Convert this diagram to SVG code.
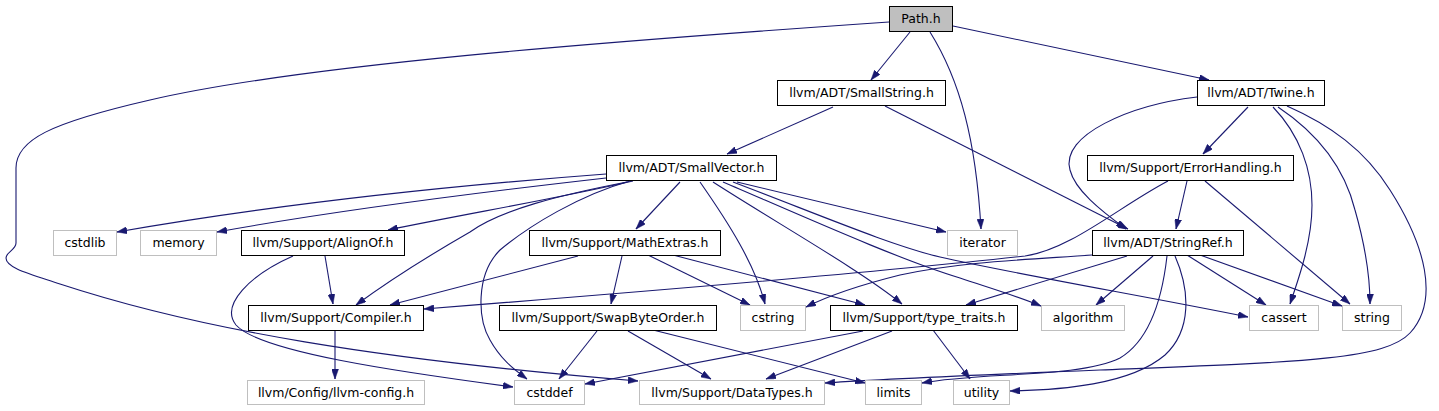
<svg xmlns="http://www.w3.org/2000/svg" width="1439" height="411" viewBox="0 0 1439 411">
<style>
.n rect{fill:#fff;stroke:#000;stroke-width:1}
.g rect{fill:#fff;stroke:#bfbfbf;stroke-width:1}
.root rect{fill:#bfbfbf;stroke:#000;stroke-width:1}
text{font-family:"DejaVu Sans","Liberation Sans",sans-serif;font-size:12.5px;fill:#000;text-anchor:middle}
#edges path{fill:none;stroke:#191970;stroke-width:1.1;marker-end:url(#arr)}
</style>
<defs>
<marker id="arr" viewBox="0 0 10 7" refX="10" refY="3.5" markerWidth="10" markerHeight="7" markerUnits="userSpaceOnUse" orient="auto">
<path d="M0,0 L10,3.5 L0,7 z" fill="#191970" stroke="#191970" stroke-width="0.5"/>
</marker>
</defs>
<rect width="1439" height="411" fill="#fff"/>
<g id="edges">
<path d="M910,32 L871,80"/>
<path d="M930,32 C960,80 976,140 981,229"/>
<path d="M953,26 L1209,80"/>
<path d="M889,22 C600,42 300,65 150,100 C50,123 16,140 16,168 L16,243 C16,250 6,252 6,258 C6,268 30,274 60,284 C200,330 380,360 638,381"/>
<path d="M833,107 L727,154"/>
<path d="M885,106 L1128,229"/>
<path d="M1248,107 L1203,154"/>
<path d="M1197,97 C1130,105 1060,135 1070,170 C1075,190 1100,210 1126,229"/>
<path d="M1273,107 C1300,135 1312,170 1312,205 C1312,240 1300,275 1290,304"/>
<path d="M1278,107 C1320,135 1345,170 1355,210 C1365,245 1370,275 1370,304"/>
<path d="M1287,106 C1330,125 1365,150 1390,190 C1425,245 1440,300 1410,333 C1385,360 1300,362 1100,370 C1000,374 900,378 825,383"/>
<path d="M1168,181 C1120,206 1070,250 1025,256 C880,272 640,292 424,309"/>
<path d="M1187,181 L1176,229"/>
<path d="M1205,181 L1350,304"/>
<path d="M606,174 C500,182 300,200 117,232"/>
<path d="M606,178 C500,190 350,208 217,232"/>
<path d="M633,181 C550,200 470,213 388,230"/>
<path d="M627,182 C560,195 500,210 470,232 C430,255 390,280 356,305"/>
<path d="M630,181 C580,195 530,225 500,250 C475,275 478,320 490,340 C500,358 512,368 527,379"/>
<path d="M680,182 L636,229"/>
<path d="M700,182 C730,225 755,265 765,304"/>
<path d="M713,182 C780,225 860,270 902,304"/>
<path d="M737,182 L946,232"/>
<path d="M723,182 C800,215 900,260 960,278 C990,288 1020,297 1041,306"/>
<path d="M733,182 C820,215 890,245 940,257 C1020,275 1150,297 1248,317"/>
<path d="M325,256 L333,304"/>
<path d="M293,256 C250,275 220,305 236,325 C260,352 400,372 513,387"/>
<path d="M335,330 L335,379"/>
<path d="M578,256 L390,305"/>
<path d="M622,256 L611,304"/>
<path d="M648,255 L750,305"/>
<path d="M673,255 L865,305"/>
<path d="M597,331 L559,379"/>
<path d="M628,331 L711,379"/>
<path d="M653,330 L865,383"/>
<path d="M863,331 L585,384"/>
<path d="M892,331 L766,379"/>
<path d="M933,330 L970,379"/>
<path d="M1092,255 C1020,260 960,262 900,275 C860,285 830,295 806,307"/>
<path d="M1127,256 L966,305"/>
<path d="M1153,256 L1096,305"/>
<path d="M1187,255 L1266,305"/>
<path d="M1200,255 L1342,306"/>
<path d="M1167,256 C1162,300 1150,340 1120,358 C1080,378 980,372 922,383"/>
<path d="M1175,256 C1190,290 1192,330 1165,355 C1130,385 1060,390 1010,391"/>
</g>
<g id="node-path" class="root"><rect x="889.5" y="6.5" width="63" height="25"/><text x="921" y="23">Path.h</text></g>
<g id="node-smallstring" class="n"><rect x="777.5" y="80.5" width="168" height="25"/><text x="861.5" y="97">llvm/ADT/SmallString.h</text></g>
<g id="node-twine" class="n"><rect x="1197.5" y="80.5" width="127" height="25"/><text x="1261" y="97">llvm/ADT/Twine.h</text></g>
<g id="node-smallvector" class="n"><rect x="606.5" y="155.5" width="170" height="25"/><text x="691.5" y="172">llvm/ADT/SmallVector.h</text></g>
<g id="node-errorhandling" class="n"><rect x="1087.5" y="155.5" width="206" height="25"/><text x="1190.5" y="172">llvm/Support/ErrorHandling.h</text></g>
<g id="node-cstdlib" class="g"><rect x="53.5" y="230.5" width="63" height="25"/><text x="85" y="247">cstdlib</text></g>
<g id="node-memory" class="g"><rect x="140.5" y="230.5" width="76" height="25"/><text x="178.5" y="247">memory</text></g>
<g id="node-alignof" class="n"><rect x="241.5" y="230.5" width="163" height="25"/><text x="323" y="247">llvm/Support/AlignOf.h</text></g>
<g id="node-mathextras" class="n"><rect x="529.5" y="230.5" width="191" height="25"/><text x="625" y="247">llvm/Support/MathExtras.h</text></g>
<g id="node-iterator" class="g"><rect x="947.5" y="230.5" width="70" height="25"/><text x="982.5" y="247">iterator</text></g>
<g id="node-stringref" class="n"><rect x="1092.5" y="230.5" width="151" height="25"/><text x="1168" y="247">llvm/ADT/StringRef.h</text></g>
<g id="node-compiler" class="n"><rect x="248.5" y="305.5" width="175" height="25"/><text x="336" y="322">llvm/Support/Compiler.h</text></g>
<g id="node-swapbyteorder" class="n"><rect x="499.5" y="305.5" width="217" height="25"/><text x="608" y="322">llvm/Support/SwapByteOrder.h</text></g>
<g id="node-cstring" class="g"><rect x="740.5" y="305.5" width="65" height="25"/><text x="773" y="322">cstring</text></g>
<g id="node-typetraits" class="n"><rect x="830.5" y="305.5" width="187" height="25"/><text x="924" y="322">llvm/Support/type_traits.h</text></g>
<g id="node-algorithm" class="g"><rect x="1041.5" y="305.5" width="83" height="25"/><text x="1083" y="322">algorithm</text></g>
<g id="node-cassert" class="g"><rect x="1249.5" y="305.5" width="69" height="25"/><text x="1284" y="322">cassert</text></g>
<g id="node-string" class="g"><rect x="1342.5" y="305.5" width="59" height="25"/><text x="1372" y="322">string</text></g>
<g id="node-llvmconfig" class="g"><rect x="247.5" y="380.5" width="177" height="24"/><text x="336" y="397">llvm/Config/llvm-config.h</text></g>
<g id="node-cstddef" class="g"><rect x="514.5" y="380.5" width="70" height="24"/><text x="549.5" y="397">cstddef</text></g>
<g id="node-datatypes" class="g"><rect x="639.5" y="380.5" width="185" height="24"/><text x="732" y="397">llvm/Support/DataTypes.h</text></g>
<g id="node-limits" class="g"><rect x="865.5" y="380.5" width="56" height="24"/><text x="893.5" y="397">limits</text></g>
<g id="node-utility" class="g"><rect x="953.5" y="380.5" width="56" height="24"/><text x="981.5" y="397">utility</text></g>
</svg>
